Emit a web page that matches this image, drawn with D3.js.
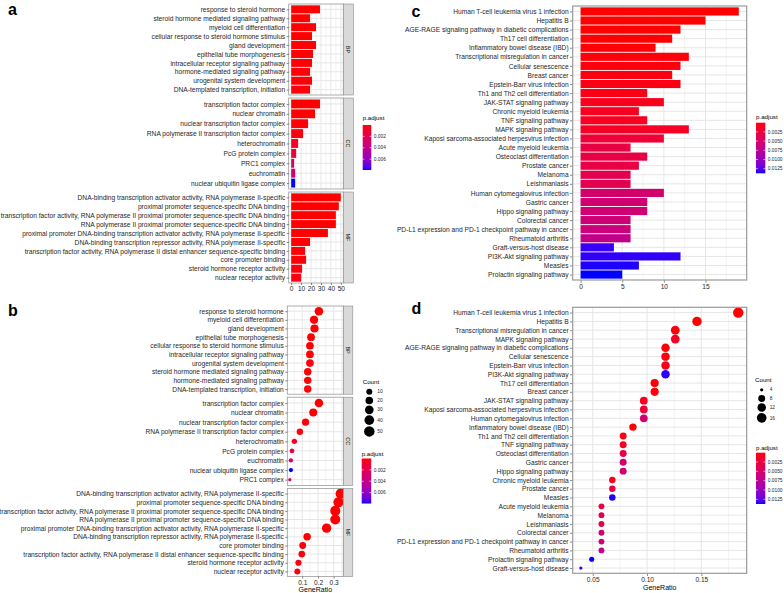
<!DOCTYPE html>
<html><head><meta charset="utf-8">
<script src="https://cdn.jsdelivr.net/npm/d3@7"></script>
<style>
body{margin:0;background:#fff}
svg{display:block}
text{font-family:"Liberation Sans",Arial,Helvetica,sans-serif}
</style>
</head><body>
<svg id="fig" width="784" height="593"></svg>
<script>
// ---------------- DATA ----------------
// Panel a (bar plot, GO enrichment) – order as drawn, top to bottom
const aBPTerms = ["response to steroid hormone","steroid hormone mediated signaling pathway","myeloid cell differentiation","cellular response to steroid hormone stimulus","gland development","epithelial tube morphogenesis","intracellular receptor signaling pathway","hormone-mediated signaling pathway","urogenital system development","DNA-templated transcription, initiation"];
const aBPCount = [29,19,25,21,25,22,21,19,21,19];
const aBPPadj  = [0.00001,0.00002,0.00003,0.00004,0.00005,0.00006,0.00008,0.0001,0.00012,0.00015];

const aCCTerms = ["transcription factor complex","nuclear chromatin","nuclear transcription factor complex","RNA polymerase II transcription factor complex","heterochromatin","PcG protein complex","PRC1 complex","euchromatin","nuclear ubiquitin ligase complex"];
const aCCCount = [29,24,17,12,7,5,3,4,4];
const aCCPadj  = [0.00002,0.00005,0.0001,0.0002,0.0007,0.0014,0.0026,0.0031,0.0079];

const aMFTerms = ["DNA-binding transcription activator activity, RNA polymerase II-specific","proximal promoter sequence-specific DNA binding","transcription factor activity, RNA polymerase II proximal promoter sequence-specific DNA binding","RNA polymerase II proximal promoter sequence-specific DNA binding","proximal promoter DNA-binding transcription activator activity, RNA polymerase II-specific","DNA-binding transcription repressor activity, RNA polymerase II-specific","transcription factor activity, RNA polymerase II distal enhancer sequence-specific binding","core promoter binding","steroid hormone receptor activity","nuclear receptor activity"];
const aMFCount = [50,48,45,45,37,19,14,15,11,10];
const aMFPadj  = [0.00001,0.00001,0.00002,0.00002,0.00003,0.00005,0.0001,0.0001,0.0002,0.0002];

// Panel b (dot plot, GO enrichment) – order as drawn
const bBPTerms = ["response to steroid hormone","myeloid cell differentiation","gland development","epithelial tube morphogenesis","cellular response to steroid hormone stimulus","intracellular receptor signaling pathway","urogenital system development","steroid hormone mediated signaling pathway","hormone-mediated signaling pathway","DNA-templated transcription, initiation"];
const bBPRatio = [0.206,0.175,0.178,0.156,0.149,0.149,0.149,0.135,0.135,0.135];
const bBPCount = [29,25,25,22,21,21,21,19,19,19];
const bBPPadj  = [0.00001,0.00003,0.00005,0.00006,0.00004,0.00008,0.00012,0.00002,0.0001,0.00015];

const bCCTerms = ["transcription factor complex","nuclear chromatin","nuclear transcription factor complex","RNA polymerase II transcription factor complex","heterochromatin","PcG protein complex","euchromatin","nuclear ubiquitin ligase complex","PRC1 complex"];
const bCCRatio = [0.206,0.170,0.121,0.085,0.050,0.035,0.028,0.028,0.021];
const bCCCount = [29,24,17,12,7,5,4,4,3];
const bCCPadj  = [0.00002,0.00005,0.0001,0.0002,0.0007,0.0014,0.0031,0.0079,0.0026];

const bMFTerms = ["DNA-binding transcription activator activity, RNA polymerase II-specific","proximal promoter sequence-specific DNA binding","transcription factor activity, RNA polymerase II proximal promoter sequence-specific DNA binding","RNA polymerase II proximal promoter sequence-specific DNA binding","proximal promoter DNA-binding transcription activator activity, RNA polymerase II-specific","DNA-binding transcription repressor activity, RNA polymerase II-specific","core promoter binding","transcription factor activity, RNA polymerase II distal enhancer sequence-specific binding","steroid hormone receptor activity","nuclear receptor activity"];
const bMFRatio = [0.345,0.331,0.310,0.310,0.255,0.131,0.103,0.097,0.076,0.069];
const bMFCount = [50,48,45,45,37,19,15,14,11,10];
const bMFPadj  = [0.00001,0.00001,0.00002,0.00002,0.00003,0.00005,0.0001,0.0001,0.0002,0.0002];

// Panel c (bar plot, KEGG) – order as drawn
const cTerms = ["Human T-cell leukemia virus 1 infection","Hepatitis B","AGE-RAGE signaling pathway in diabetic complications","Th17 cell differentiation","Inflammatory bowel disease (IBD)","Transcriptional misregulation in cancer","Cellular senescence","Breast cancer","Epstein-Barr virus infection","Th1 and Th2 cell differentiation","JAK-STAT signaling pathway","Chronic myeloid leukemia","TNF signaling pathway","MAPK signaling pathway","Kaposi sarcoma-associated herpesvirus infection","Acute myeloid leukemia","Osteoclast differentiation","Prostate cancer","Melanoma","Leishmaniasis","Human cytomegalovirus infection","Gastric cancer","Hippo signaling pathway","Colorectal cancer","PD-L1 expression and PD-1 checkpoint pathway in cancer","Rheumatoid arthritis","Graft-versus-host disease","PI3K-Akt signaling pathway","Measles","Prolactin signaling pathway"];
const cCount = [19,15,12,11,9,13,12,11,12,8,10,7,8,13,10,6,8,7,6,6,10,8,8,6,6,6,4,12,7,5];
const cPadj  = [0.00001,0.00002,0.00005,0.0001,0.00015,0.0002,0.0003,0.0004,0.0005,0.0006,0.0008,0.0009,0.001,0.0012,0.002,0.0027,0.0028,0.0029,0.0034,0.0035,0.0052,0.0053,0.0054,0.0058,0.0059,0.0068,0.0133,0.0134,0.0136,0.01375];

// Panel d (dot plot, KEGG) – order as drawn
const dTerms = ["Human T-cell leukemia virus 1 infection","Hepatitis B","Transcriptional misregulation in cancer","MAPK signaling pathway","AGE-RAGE signaling pathway in diabetic complications","Cellular senescence","Epstein-Barr virus infection","PI3K-Akt signaling pathway","Th17 cell differentiation","Breast cancer","JAK-STAT signaling pathway","Kaposi sarcoma-associated herpesvirus infection","Human cytomegalovirus infection","Inflammatory bowel disease (IBD)","Th1 and Th2 cell differentiation","TNF signaling pathway","Osteoclast differentiation","Gastric cancer","Hippo signaling pathway","Chronic myeloid leukemia","Prostate cancer","Measles","Acute myeloid leukemia","Melanoma","Leishmaniasis","Colorectal cancer","PD-L1 expression and PD-1 checkpoint pathway in cancer","Rheumatoid arthritis","Prolactin signaling pathway","Graft-versus-host disease"];
const dRatio = [0.184,0.146,0.126,0.126,0.117,0.117,0.117,0.117,0.107,0.107,0.097,0.097,0.097,0.087,0.078,0.078,0.078,0.078,0.078,0.068,0.068,0.068,0.058,0.058,0.058,0.058,0.058,0.058,0.049,0.039];

// Legend / axis tick labels
const aColorTicks = [0.002,0.004,0.006];
const bSizeTicks  = [10,20,30,40,50];
const cColorTicks = [0.0025,0.0050,0.0075,0.0100,0.0125];
const dSizeTicks  = [4,8,12,16];
const aXTicks = [0,10,20,30,40,50];
const bXTicks = [0.1,0.2,0.3];
const cXTicks = [0,5,10,15];
const dXTicks = [0.05,0.10,0.15];

// ---------------- DRAWING ----------------
const svg = d3.select("#fig");
const defs = svg.append("defs");
const TXT = "#262626";
const GRID = "#e6e6e6";
const BORDER = "#9a9a9a";
const ramp = d3.interpolateLab("red","blue");

const goP = [].concat(aBPPadj,aCCPadj,aMFPadj);
const goColor = d3.scaleSequential(ramp).domain(d3.extent(goP));
const keggColor = d3.scaleSequential(ramp).domain(d3.extent(cPadj));
const keggCount = new Map(cTerms.map((t,i)=>[t,cCount[i]]));
const keggP = new Map(cTerms.map((t,i)=>[t,cPadj[i]]));

// ggplot-like size scale (area palette range 1..6)
function sizeScale(extent){
  return v => {
    const t = Math.sqrt(Math.max(0,(v-extent[0])/(extent[1]-extent[0])));
    const size = 1 + 5*t;
    return 0.9 + 0.72*size;
  };
}
const bRadius = sizeScale(d3.extent([].concat(bBPCount,bCCCount,bMFCount)));
const dRadius = sizeScale(d3.extent(dTerms.map(t=>keggCount.get(t))));

function panelLabel(txt,x,y){
  svg.append("text").attr("x",x).attr("y",y).attr("font-size",16).attr("font-weight","bold")
    .attr("fill","#000").text(txt);
}
function vGrid(g,x,ticks,minor,y0,y1){
  minor.forEach(v=>g.append("line").attr("x1",x(v)).attr("x2",x(v)).attr("y1",y0).attr("y2",y1)
    .attr("stroke",GRID).attr("stroke-width",0.5));
  ticks.forEach(v=>g.append("line").attr("x1",x(v)).attr("x2",x(v)).attr("y1",y0).attr("y2",y1)
    .attr("stroke",GRID).attr("stroke-width",1));
}
function hGrid(g,y,terms,x0,x1){
  terms.forEach(t=>g.append("line").attr("x1",x0).attr("x2",x1).attr("y1",y(t)).attr("y2",y(t))
    .attr("stroke",GRID).attr("stroke-width",1));
}
function yAxis(g,y,x0,fs){
  const ax = g.append("g").attr("transform",`translate(${x0},0)`)
    .call(d3.axisLeft(y).tickSize(2).tickPadding(1.5).tickSizeOuter(0));
  ax.select(".domain").remove();
  ax.selectAll("line").attr("stroke","#333").attr("stroke-width",0.6);
  ax.selectAll("text").attr("font-size",fs).attr("fill",TXT).attr("font-family",null);
}
function xAxis(g,x,ticks,y0,fs,fmt){
  const ax = g.append("g").attr("transform",`translate(0,${y0})`)
    .call(d3.axisBottom(x).tickValues(ticks).tickSize(2).tickPadding(1.5).tickSizeOuter(0).tickFormat(fmt));
  ax.select(".domain").remove();
  ax.selectAll("line").attr("stroke","#333").attr("stroke-width",0.6);
  ax.selectAll("text").attr("font-size",fs).attr("fill",TXT).attr("font-family",null);
}
function strip(g,x0,y0,w,h,label){
  g.append("rect").attr("x",x0).attr("y",y0).attr("width",w).attr("height",h)
    .attr("fill","#d9d9d9").attr("stroke","#8a8a8a").attr("stroke-width",0.6);
  g.append("text").attr("transform",`translate(${x0+w/2},${y0+h/2}) rotate(90)`)
    .attr("text-anchor","middle").attr("dy","0.35em").attr("font-size",5.5).attr("fill","#1a1a1a").text(label);
}
function border(g,x0,y0,w,h,col,sw){
  g.append("rect").attr("x",x0).attr("y",y0).attr("width",w).attr("height",h)
    .attr("fill","none").attr("stroke",col).attr("stroke-width",sw);
}
function colorbar(id,x0,y0,w,h,scale,ticks,fmt,fs){
  const dom = scale.domain();
  const grad = defs.append("linearGradient").attr("id",id).attr("x1",0).attr("x2",0).attr("y1",0).attr("y2",1);
  d3.range(0,1.0001,0.05).forEach(t=>grad.append("stop").attr("offset",t)
    .attr("stop-color",scale(dom[0]+t*(dom[1]-dom[0]))));
  svg.append("rect").attr("x",x0).attr("y",y0).attr("width",w).attr("height",h).attr("fill",`url(#${id})`);
  const yy = d3.scaleLinear().domain(dom).range([y0,y0+h]);
  ticks.forEach(v=>{
    const y = yy(v);
    svg.append("line").attr("x1",x0).attr("x2",x0+w*0.2).attr("y1",y).attr("y2",y).attr("stroke","#fff").attr("stroke-width",0.6);
    svg.append("line").attr("x1",x0+w*0.8).attr("x2",x0+w).attr("y1",y).attr("y2",y).attr("stroke","#fff").attr("stroke-width",0.6);
    svg.append("text").attr("x",x0+w+2.5).attr("y",y).attr("dy","0.35em").attr("font-size",fs).attr("fill",TXT).text(fmt(v));
  });
}
function legendTitle(txt,x,y){
  svg.append("text").attr("x",x).attr("y",y).attr("font-size",6.2).attr("fill","#000").text(txt);
}
function sizeLegend(x,yStart,ticks,rfn,fs){
  let y = yStart;
  ticks.forEach(v=>{
    const r = rfn(v);
    const kh = Math.max(8.6, 2*r+1.2);
    const cy = y + kh/2;
    svg.append("circle").attr("cx",x).attr("cy",cy).attr("r",r).attr("fill","#000");
    svg.append("text").attr("x",x+8).attr("y",cy).attr("dy","0.35em").attr("font-size",fs).attr("fill",TXT).text(v);
    y += kh;
  });
}

// ---- Panel a ----
(function(){
  const g = svg.append("g");
  const L = 288.7, R = 343.3, top = 4, H = 91, GAP = 3, SW = 10;
  const x = d3.scaleLinear().domain([-2.5,52.5]).range([L,R]);
  const facets = [
    {terms:aBPTerms,count:aBPCount,p:aBPPadj,lab:"BP"},
    {terms:aCCTerms,count:aCCCount,p:aCCPadj,lab:"CC"},
    {terms:aMFTerms,count:aMFCount,p:aMFPadj,lab:"MF"}];
  facets.forEach((f,i)=>{
    const y0 = top + i*(H+GAP);
    const y = d3.scalePoint().domain(f.terms).range([y0,y0+H]).padding(0.6);
    g.append("rect").attr("x",L).attr("y",y0).attr("width",R-L).attr("height",H).attr("fill","#fff");
    vGrid(g,x,aXTicks,[5,15,25,35,45],y0,y0+H);
    hGrid(g,y,f.terms,L,R);
    const bh = y.step()*0.9;
    g.selectAll(null).data(f.terms).enter().append("rect")
      .attr("x",x(0)).attr("y",(t)=>y(t)-bh/2).attr("width",(t,j)=>x(f.count[j])-x(0)).attr("height",bh)
      .attr("fill",(t,j)=>goColor(f.p[j]));
    border(g,L,y0,R-L,H,BORDER,0.8);
    strip(g,R,y0,SW,H,f.lab);
    yAxis(g,y,L,6.65);
  });
  xAxis(g,x,aXTicks,top+3*H+2*GAP,6.6,d3.format("d"));
  legendTitle("p.adjust",362.7,120);
  colorbar("gA",362.7,125,8.6,45,goColor,aColorTicks,d3.format(".3f"),4.8);
})();
panelLabel("a",8,14.5);

// ---- Panel b ----
(function(){
  const g = svg.append("g");
  const L = 287.3, R = 343.3, top = 306, H = 88.2, GAP = 3, SW = 9.5;
  const x = d3.scaleLinear().domain([0.0051,0.361]).range([L,R]);
  const facets = [
    {terms:bBPTerms,ratio:bBPRatio,count:bBPCount,p:bBPPadj,lab:"BP"},
    {terms:bCCTerms,ratio:bCCRatio,count:bCCCount,p:bCCPadj,lab:"CC"},
    {terms:bMFTerms,ratio:bMFRatio,count:bMFCount,p:bMFPadj,lab:"MF"}];
  facets.forEach((f,i)=>{
    const y0 = top + i*(H+GAP);
    const y = d3.scalePoint().domain(f.terms).range([y0,y0+H]).padding(0.6);
    g.append("rect").attr("x",L).attr("y",y0).attr("width",R-L).attr("height",H).attr("fill","#fff");
    vGrid(g,x,bXTicks,[0.05,0.15,0.25,0.35],y0,y0+H);
    hGrid(g,y,f.terms,L,R);
    const cid = "clipB"+i;
    defs.append("clipPath").attr("id",cid).append("rect").attr("x",L).attr("y",y0).attr("width",R-L).attr("height",H);
    g.append("g").attr("clip-path",`url(#${cid})`).selectAll(null).data(f.terms).enter().append("circle")
      .attr("cx",(t,j)=>x(f.ratio[j])).attr("cy",t=>y(t)).attr("r",(t,j)=>bRadius(f.count[j]))
      .attr("fill",(t,j)=>goColor(f.p[j]));
    border(g,L,y0,R-L,H,BORDER,0.8);
    strip(g,R,y0,SW,H,f.lab);
    yAxis(g,y,L,6.65);
  });
  const yb = top+3*H+2*GAP;
  xAxis(g,x,bXTicks,yb,6.6,d3.format(".1f"));
  g.append("text").attr("x",(L+R)/2).attr("y",592).attr("text-anchor","middle").attr("font-size",7).attr("fill","#000").text("GeneRatio");
  legendTitle("Count",362.7,384);
  sizeLegend(369.3,387.5,bSizeTicks,bRadius,4.8);
  legendTitle("p.adjust",361.7,455.5);
  colorbar("gB",361.7,458.5,9.5,45,goColor,aColorTicks,d3.format(".3f"),4.8);
})();
panelLabel("b",8,315.5);

// ---- Panel c ----
(function(){
  const g = svg.append("g");
  const L = 572.7, R = 746.7, T = 6, B = 280;
  const x = d3.scaleLinear().domain([-0.95,19.95]).range([L,R]);
  const y = d3.scalePoint().domain(cTerms).range([T,B]).padding(0.6);
  g.append("rect").attr("x",L).attr("y",T).attr("width",R-L).attr("height",B-T).attr("fill","#fff");
  vGrid(g,x,cXTicks,[2.5,7.5,12.5,17.5],T,B);
  hGrid(g,y,cTerms,L,R);
  const bh = y.step()*0.9;
  g.selectAll(null).data(cTerms).enter().append("rect")
    .attr("x",x(0)).attr("y",t=>y(t)-bh/2).attr("width",(t,i)=>x(cCount[i])-x(0)).attr("height",bh)
    .attr("fill",(t,i)=>keggColor(cPadj[i]));
  border(g,L,T,R-L,B-T,BORDER,1.2);
  yAxis(g,y,L-0.6,6.65);
  xAxis(g,x,cXTicks,B+0.6,6.6,d3.format("d"));
  legendTitle("p.adjust",756,118.5);
  colorbar("gC",756,122.7,9.3,50.6,keggColor,cColorTicks,d3.format(".4f"),4.8);
})();
panelLabel("c",411.5,16.5);

// ---- Panel d ----
(function(){
  const g = svg.append("g");
  const L = 572.7, R = 746.7, T = 307.3, B = 573.3;
  const x = d3.scaleLinear().domain([0.0315,0.1918]).range([L,R]);
  const y = d3.scalePoint().domain(dTerms).range([T,B]).padding(0.6);
  g.append("rect").attr("x",L).attr("y",T).attr("width",R-L).attr("height",B-T).attr("fill","#fff");
  vGrid(g,x,dXTicks,[0.075,0.125,0.175],T,B);
  hGrid(g,y,dTerms,L,R);
  g.selectAll(null).data(dTerms).enter().append("circle")
    .attr("cx",(t,i)=>x(dRatio[i])).attr("cy",t=>y(t)).attr("r",t=>dRadius(keggCount.get(t)))
    .attr("fill",t=>keggColor(keggP.get(t)));
  border(g,L,T,R-L,B-T,BORDER,1.2);
  yAxis(g,y,L-0.6,6.65);
  xAxis(g,x,dXTicks,B+0.6,6.6,d3.format(".2f"));
  g.append("text").attr("x",(L+R)/2).attr("y",590).attr("text-anchor","middle").attr("font-size",7).attr("fill","#000").text("GeneRatio");
  legendTitle("Count",755,382);
  sizeLegend(761.7,385.5,dSizeTicks,dRadius,4.8);
  legendTitle("p.adjust",756,449.5);
  colorbar("gD",756,452.7,9.3,51.3,keggColor,cColorTicks,d3.format(".4f"),4.8);
})();
panelLabel("d",411.5,313.5);
</script>
</body></html>
